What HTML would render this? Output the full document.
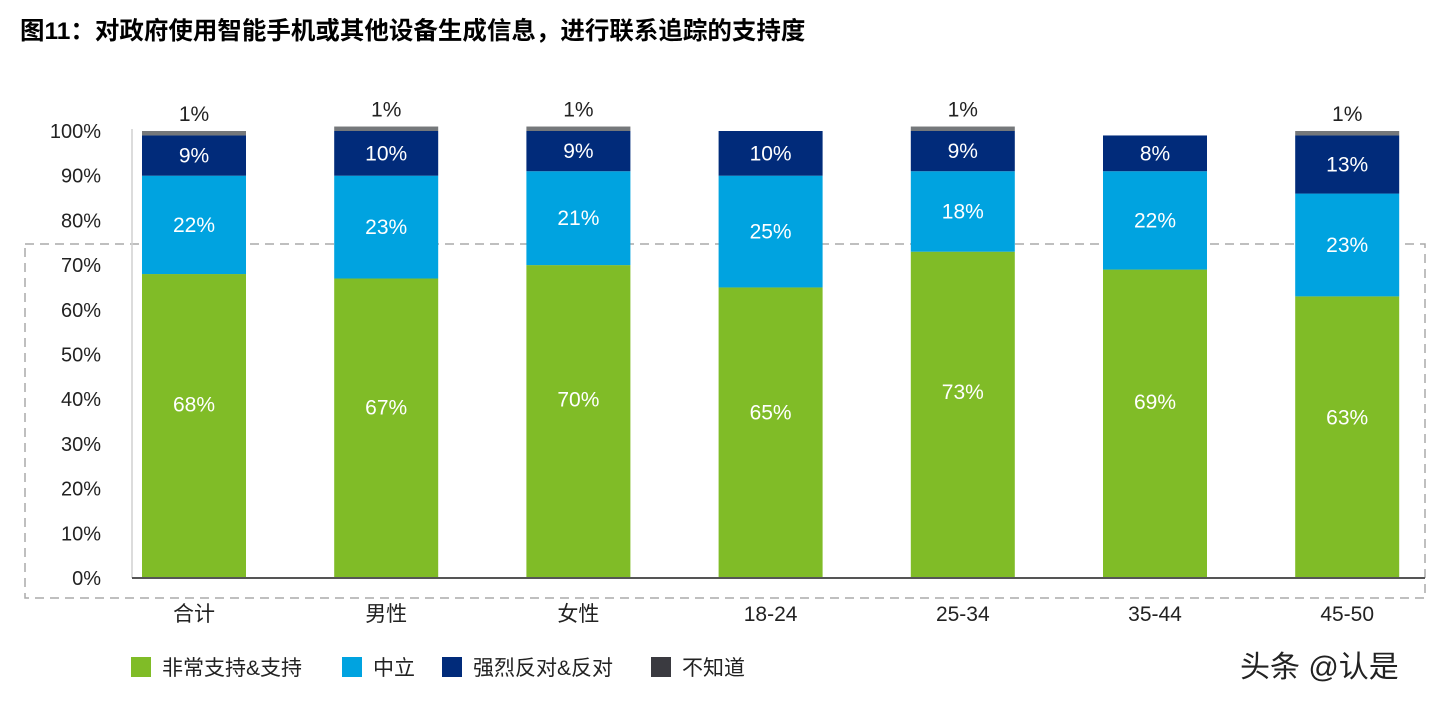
<!DOCTYPE html>
<html><head><meta charset="utf-8"><style>
body{margin:0;background:#fff;width:1455px;height:706px;overflow:hidden;font-family:"Liberation Sans","Noto Sans CJK SC",sans-serif}
</style></head><body>
<svg id="chart" width="1455" height="706" xmlns="http://www.w3.org/2000/svg" font-family="Liberation Sans, Noto Sans CJK SC, sans-serif">
<text x="20" y="39" font-size="24.5" font-weight="bold" fill="#000">图11：对政府使用智能手机或其他设备生成信息，进行联系追踪的支持度</text>
<rect x="25" y="244" width="1400" height="354" fill="none" stroke="#aaa" stroke-width="1.5" stroke-dasharray="9,6"/>
<g id="bars"></g>
<line x1="132" y1="129" x2="132" y2="578" stroke="#d0d0d0" stroke-width="1.5"/>
<line x1="132" y1="578" x2="1425" y2="578" stroke="#555" stroke-width="2"/>
<g id="legend"></g>
<text x="1240" y="677" font-size="30" fill="#222">头条 @认是</text>
</svg>
<script>
const categories=["合计","男性","女性","18-24","25-34","35-44","45-50"];
const support=[68,67,70,65,73,69,63];
const neutral=[22,23,21,25,18,22,23];
const oppose=[9,10,9,10,9,8,13];
const unknown=[1,1,1,0,1,0,1];
const yTicks=[0,10,20,30,40,50,60,70,80,90,100];
const seriesNames=["非常支持&支持","中立","强烈反对&反对","不知道"];
const colors=["#80bc27","#00a3e0","#012b7a","#75787b"];
const NS="http://www.w3.org/2000/svg";
const svg=document.getElementById('chart');
const g=document.getElementById('bars');
const y=v=>578-v*4.47;
const xc=i=>194+i*192.2;
function el(t,a,p){const e=document.createElementNS(NS,t);for(const k in a)e.setAttribute(k,a[k]);(p||svg).appendChild(e);return e;}
yTicks.forEach(t=>{const e=el('text',{x:101,y:y(t)+7,'font-size':20,'text-anchor':'end',fill:'#222'},g);e.textContent=t+'%';

});
const series=[support,neutral,oppose,unknown];
categories.forEach((c,i)=>{let base=0;
series.forEach((s,k)=>{const v=s[i];if(!v)return;
const r=el('rect',{x:xc(i)-52,y:y(base+v),width:104,height:y(base)-y(base+v),fill:colors[k]},g);


const lbl=el('text',{x:xc(i),'font-size':21,'text-anchor':'middle',fill:k==3?'#222':'#fff'},g);
let ly;
if(k==3)ly=y(base+v)-10;else if(k==0)ly=y(v*0.57)+7;else ly=(y(base)+y(base+v))/2+7;
lbl.setAttribute('y',ly);
lbl.textContent=v+'%';


base+=v;});
const t=el('text',{x:xc(i),y:621,'font-size':21,'text-anchor':'middle',fill:'#222'},g);t.textContent=c;

});
const lg=document.getElementById('legend');
const lx=[131,342,442,651];
seriesNames.forEach((n,k)=>{const r=el('rect',{x:lx[k],y:657,width:20,height:20,fill:colors[k]==="#75787b"?"#3a3a40":colors[k]},lg);


const t=el('text',{x:lx[k]+31,y:675,'font-size':21,fill:'#222'},lg);t.textContent=n;

});
</script>
</body></html>
